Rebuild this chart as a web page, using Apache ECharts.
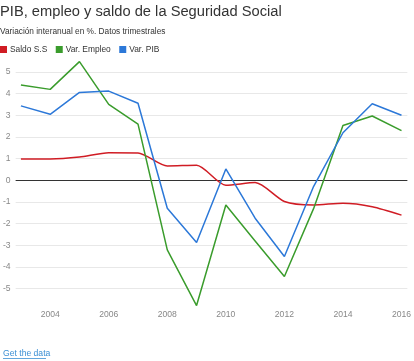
<!DOCTYPE html>
<html>
<head>
<meta charset="utf-8">
<script src="https://cdn.jsdelivr.net/npm/echarts@6/dist/echarts.min.js"></script>
<style>
html,body{margin:0;padding:0;background:#fff;}
#chart{width:414px;height:361px;}
</style>
</head>
<body>
<div id="chart"></div>
<script>
var years = [2003, 2004, 2005, 2006, 2007, 2008, 2009, 2010, 2011, 2012, 2013, 2014, 2015, 2016];
var saldoSS = [0.98, 0.98, 1.07, 1.27, 1.26, 0.66, 0.69, -0.23, -0.11, -0.98, -1.14, -1.06, -1.22, -1.61];
var varEmpleo = [4.39, 4.19, 5.47, 3.5, 2.59, -3.21, -5.78, -1.14, -2.8, -4.44, -1.3, 2.52, 2.96, 2.29];
var varPIB = [3.43, 3.04, 4.05, 4.11, 3.55, -1.29, -2.87, 0.52, -1.75, -3.52, -0.28, 2.19, 3.53, 3.0];
var xTicks = [2004, 2006, 2008, 2010, 2012, 2014, 2016];
var yTicks = [-5, -4, -3, -2, -1, 0, 1, 2, 3, 4, 5];

function pairs(vals) { return years.map(function (y, i) { return [y, vals[i]]; }); }

var font = '"Liberation Sans", Arial, sans-serif';
var chart = echarts.init(document.getElementById('chart'));
chart.setOption({
  animation: false,
  textStyle: { fontFamily: font },
  title: [
    { text: 'PIB, empleo y saldo de la Seguridad Social', left: 0, top: 4, padding: 0,
      textStyle: { fontSize: 14.7, fontWeight: 'normal', color: '#333', fontFamily: font } },
    { text: 'Variación interanual en %. Datos trimestrales', left: 0, top: 27.5, padding: 0,
      textStyle: { fontSize: 8.3, fontWeight: 'normal', color: '#333', fontFamily: font } }
  ],
  legend: {
    left: 0, top: 45.5, padding: 0, icon: 'rect', itemWidth: 7, itemHeight: 7, itemGap: 8.5,
    textStyle: { fontSize: 8.4, color: '#333', fontFamily: font, padding: [0, 0, 0, -2] },
    data: ['Saldo S.S', 'Var. Empleo', 'Var. PIB']
  },
  grid: { left: 12, right: 2.5, top: 58.8, bottom: 55, containLabel: false },
  xAxis: {
    type: 'value', min: 2002.82, max: 2016.2,
    axisLine: { show: false }, axisTick: { show: false, customValues: xTicks },
    splitLine: { show: false },
    axisLabel: { customValues: xTicks, color: '#888', fontSize: 8.6, margin: 4, fontFamily: font,
      formatter: function (v) { return String(v); } }
  },
  yAxis: {
    type: 'value', min: -5.8, max: 5.6,
    axisLine: { show: false },
    axisTick: { show: false, customValues: yTicks },
    axisLabel: { customValues: yTicks, color: '#888', fontSize: 8.6, margin: 5, fontFamily: font },
    splitLine: { show: true, lineStyle: { color: '#e8e8e8', width: 1 } }
  },
  series: [
    { name: 'Saldo S.S', type: 'line', data: pairs(saldoSS), showSymbol: false, smooth: 0.25,
      color: '#d01c24', lineStyle: { width: 1.5 }, z: 3,
      markLine: { silent: true, symbol: 'none', label: { show: false },
        lineStyle: { color: '#333', width: 1.2, type: 'solid' }, data: [{ yAxis: 0 }], z: 1 } },
    { name: 'Var. Empleo', type: 'line', data: pairs(varEmpleo), showSymbol: false,
      color: '#3a9c2c', lineStyle: { width: 1.5 }, z: 3 },
    { name: 'Var. PIB', type: 'line', data: pairs(varPIB), showSymbol: false,
      color: '#2c78d8', lineStyle: { width: 1.5 }, z: 4 }
  ],
  graphic: [
    { type: 'text', left: 3, top: 349, style: { text: 'Get the data', fill: '#3b8fd4', fontSize: 8.6, fontFamily: font } },
    { type: 'line', shape: { x1: 3, y1: 358.5, x2: 46, y2: 358.5 }, style: { stroke: '#3b8fd4', lineWidth: 0.8 } }
  ]
});
</script>
</body>
</html>
